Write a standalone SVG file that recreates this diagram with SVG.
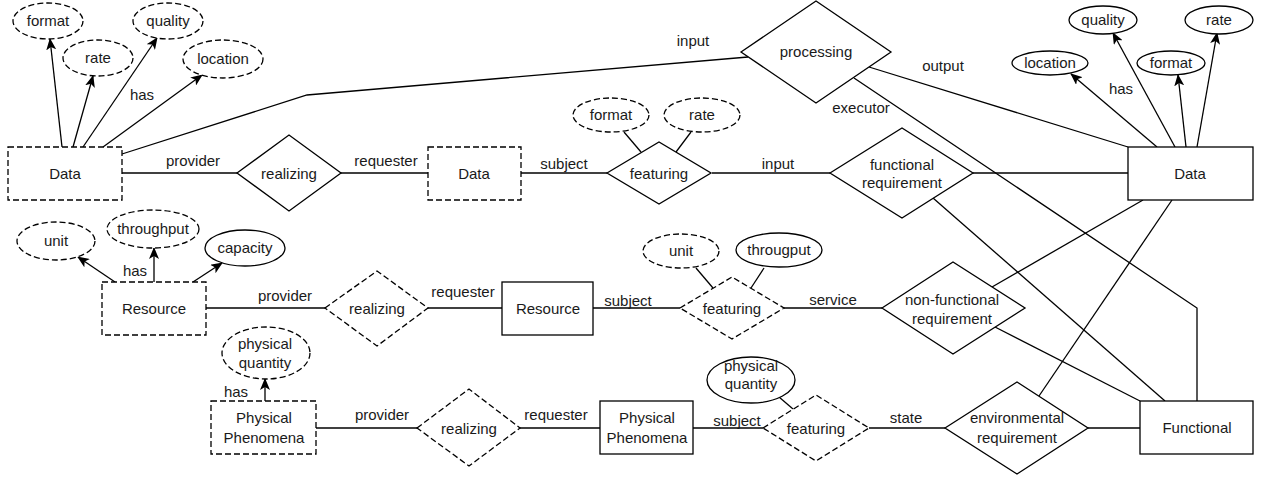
<svg xmlns="http://www.w3.org/2000/svg" width="1263" height="479" viewBox="0 0 1263 479">
<style>
.n{fill:#fff;stroke:#000;stroke-width:1.3}
.d{stroke-dasharray:6,3}
.c{fill:none;stroke:#000;stroke-width:1.3}
text{font-family:"Liberation Sans",Arial,sans-serif;font-size:15px;fill:#1a1a1a;text-anchor:middle}
</style>
<defs>
<marker id="ar" viewBox="0 0 12 10" refX="11" refY="5" markerWidth="12" markerHeight="10" markerUnits="userSpaceOnUse" orient="auto">
<path d="M0,0 L12,5 L0,10 L3,5 z" fill="#000"/>
</marker>
</defs>
<rect width="1263" height="479" fill="#fff"/>
<g id="connectors">
<g class="c">
<polyline points="122,154 307,95 748,57"/>
<line x1="122" y1="173" x2="237" y2="173"/>
<line x1="341" y1="173" x2="428" y2="173"/>
<line x1="521" y1="173" x2="607" y2="173"/>
<line x1="712" y1="173" x2="830" y2="173"/>
<line x1="973" y1="173" x2="1128" y2="173"/>
<line x1="624" y1="132" x2="641" y2="152"/>
<line x1="691" y1="132" x2="676" y2="152"/>
<line x1="869" y1="67" x2="1128" y2="147"/>
<polyline points="854,78 1197,308 1197,401"/>
<line x1="933" y1="198" x2="1165" y2="401"/>
<line x1="992" y1="287" x2="1143" y2="200"/>
<line x1="1039" y1="396" x2="1172" y2="200"/>
<line x1="995" y1="327" x2="1140" y2="401"/>
<line x1="1088" y1="428" x2="1140" y2="428"/>
<line x1="206" y1="308" x2="325" y2="308"/>
<line x1="428" y1="308" x2="502" y2="308"/>
<line x1="593" y1="308" x2="680" y2="308"/>
<line x1="784" y1="308" x2="882" y2="308"/>
<line x1="696" y1="268" x2="713" y2="288"/>
<line x1="764" y1="268" x2="751" y2="288"/>
<line x1="316" y1="428" x2="417" y2="428"/>
<line x1="520" y1="428" x2="600" y2="428"/>
<line x1="693" y1="428" x2="763" y2="428"/>
<line x1="869" y1="428" x2="945" y2="428"/>
<line x1="779" y1="397" x2="793" y2="409"/>
</g>
<g class="c" marker-end="url(#ar)">
<line x1="62" y1="147" x2="50" y2="39"/>
<line x1="73" y1="147" x2="93" y2="76"/>
<line x1="83" y1="147" x2="157" y2="38"/>
<line x1="103" y1="147" x2="202" y2="75"/>
<line x1="1157" y1="147" x2="1071" y2="74"/>
<line x1="1175" y1="147" x2="1113" y2="33"/>
<line x1="1186" y1="147" x2="1178" y2="75"/>
<line x1="1197" y1="147" x2="1217" y2="33"/>
<line x1="115" y1="282" x2="78" y2="257"/>
<line x1="154" y1="282" x2="154" y2="248"/>
<line x1="193" y1="282" x2="222" y2="263"/>
<line x1="265" y1="401" x2="265" y2="379"/>
</g>
<g id="connector-labels">
<text x="142" y="100">has</text>
<text x="693" y="46">input</text>
<text x="193" y="166">provider</text>
<text x="386" y="166">requester</text>
<text x="564" y="169">subject</text>
<text x="778" y="169">input</text>
<text x="943" y="71">output</text>
<text x="861" y="113">executor</text>
<text x="1121" y="94">has</text>
<text x="135" y="276">has</text>
<text x="285" y="301">provider</text>
<text x="463" y="297">requester</text>
<text x="628" y="306">subject</text>
<text x="833" y="305">service</text>
<text x="236" y="397">has</text>
<text x="382" y="420">provider</text>
<text x="556" y="420">requester</text>
<text x="737" y="426">subject</text>
<text x="906" y="423">state</text>
</g>
</g>
<g id="attr-format1"><ellipse class="n d" cx="48" cy="21" rx="35" ry="18"/><text x="48" y="26">format</text></g>
<g id="attr-rate1"><ellipse class="n d" cx="98" cy="58" rx="35" ry="18"/><text x="98" y="63">rate</text></g>
<g id="attr-quality1"><ellipse class="n d" cx="168" cy="21" rx="35" ry="18"/><text x="168" y="26">quality</text></g>
<g id="attr-location1"><ellipse class="n d" cx="223" cy="59" rx="40" ry="19"/><text x="223" y="64">location</text></g>
<g id="data1"><rect class="n d" x="8" y="147" width="114" height="53"/><text x="65" y="179">Data</text></g>
<g id="realizing1"><polygon class="n" points="237,173 289,135 341,173 289,211"/><text x="289" y="179">realizing</text></g>
<g id="data2"><rect class="n d" x="428" y="147" width="93" height="53"/><text x="474" y="179">Data</text></g>
<g id="attr-format2"><ellipse class="n d" cx="611" cy="115" rx="38" ry="17"/><text x="611" y="120">format</text></g>
<g id="attr-rate2"><ellipse class="n d" cx="702" cy="115" rx="38" ry="17"/><text x="702" y="120">rate</text></g>
<g id="featuring1"><polygon class="n" points="607,173 659,142 711,173 659,204"/><text x="659" y="179">featuring</text></g>
<g id="processing"><polygon class="n" points="741,52 816,1 891,52 816,103"/><text x="816" y="57">processing</text></g>
<g id="functional-requirement"><polygon class="n" points="830,173 902,128 973,173 902,218"/><text x="902" y="170">functional</text><text x="902" y="188">requirement</text></g>
<g id="data3"><rect class="n" x="1128" y="147" width="125" height="53"/><text x="1190" y="179">Data</text></g>
<g id="attr-location3"><ellipse class="n" cx="1050" cy="63" rx="38" ry="12"/><text x="1050" y="68">location</text></g>
<g id="attr-quality3"><ellipse class="n" cx="1103" cy="20" rx="34" ry="14"/><text x="1103" y="25">quality</text></g>
<g id="attr-format3"><ellipse class="n" cx="1171" cy="63" rx="34" ry="12"/><text x="1171" y="68">format</text></g>
<g id="attr-rate3"><ellipse class="n" cx="1219" cy="20" rx="34" ry="14"/><text x="1219" y="25">rate</text></g>
<g id="attr-unit1"><ellipse class="n d" cx="56" cy="241" rx="39" ry="19"/><text x="56" y="246">unit</text></g>
<g id="attr-throughput1"><ellipse class="n d" cx="153" cy="229" rx="46" ry="19"/><text x="153" y="234">throughput</text></g>
<g id="attr-capacity1"><ellipse class="n" cx="245" cy="248" rx="40" ry="18"/><text x="245" y="253">capacity</text></g>
<g id="resource1"><rect class="n d" x="102" y="282" width="104" height="53"/><text x="154" y="314">Resource</text></g>
<g id="realizing2"><polygon class="n d" points="325,308 377,271 428,308 377,346"/><text x="377" y="314">realizing</text></g>
<g id="resource2"><rect class="n" x="502" y="282" width="91" height="53"/><text x="548" y="314">Resource</text></g>
<g id="attr-unit2"><ellipse class="n d" cx="681" cy="251" rx="38" ry="17"/><text x="681" y="256">unit</text></g>
<g id="attr-througput2"><ellipse class="n" cx="779" cy="250" rx="43" ry="17"/><text x="779" y="255">througput</text></g>
<g id="featuring2"><polygon class="n d" points="680,308 732,277 784,308 732,339"/><text x="732" y="314">featuring</text></g>
<g id="non-functional-requirement"><polygon class="n" points="882,308 953,262 1025,308 953,354"/><text x="952" y="305">non-functional</text><text x="952" y="324">requirement</text></g>
<g id="attr-physical-quantity1"><ellipse class="n d" cx="266" cy="353" rx="44" ry="26"/><text x="265" y="349">physical</text><text x="265" y="368">quantity</text></g>
<g id="physical-phenomena1"><rect class="n d" x="211" y="401" width="105" height="53"/><text x="264" y="423">Physical</text><text x="264" y="443">Phenomena</text></g>
<g id="realizing3"><polygon class="n d" points="417,428 469,389 520,428 469,466"/><text x="469" y="434">realizing</text></g>
<g id="physical-phenomena2"><rect class="n" x="600" y="401" width="93" height="53"/><text x="647" y="423">Physical</text><text x="647" y="443">Phenomena</text></g>
<g id="attr-physical-quantity2"><ellipse class="n" cx="751" cy="380" rx="44" ry="23"/><text x="751" y="371">physical</text><text x="751" y="389">quantity</text></g>
<g id="featuring3"><polygon class="n d" points="763,428 816,395 869,428 816,461"/><text x="816" y="434">featuring</text></g>
<g id="environmental-requirement"><polygon class="n" points="945,428 1017,382 1088,428 1017,474"/><text x="1017" y="423">environmental</text><text x="1017" y="443">requirement</text></g>
<g id="functional"><rect class="n" x="1140" y="401" width="113" height="53"/><text x="1197" y="433">Functional</text></g>
</svg>
